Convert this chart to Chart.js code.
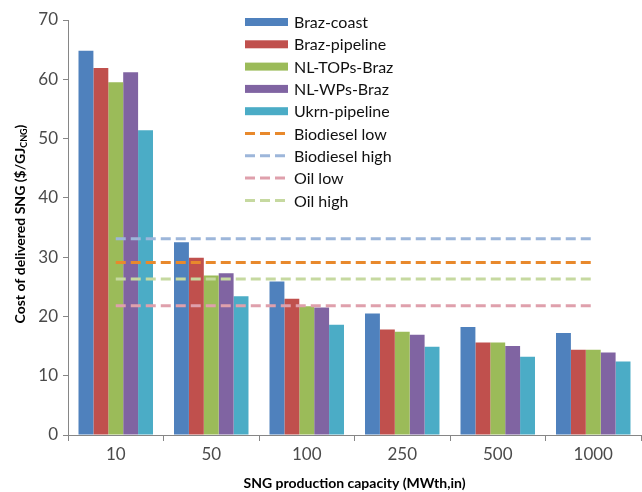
<!DOCTYPE html>
<html>
<head>
<meta charset="utf-8">
<script src="https://cdn.jsdelivr.net/npm/chart.js@4/dist/chart.umd.min.js"></script>
<style>
  html, body { margin: 0; padding: 0; background: #fff; }
  #wrap { width: 642px; height: 492px; }
</style>
</head>
<body>
<div id="wrap"><canvas id="sngChart"></canvas></div>
<script>
Chart.defaults.font.family = "Lato, 'Open Sans', sans-serif";
Chart.defaults.color = "#4a4a4a";

// capacities (MWth,in)
const capacity = ["10", "50", "100", "250", "500", "1000"]

// cost of delivered SNG per route ($/GJ)
const brazCoast = [64.8, 32.5, 25.9, 20.5, 18.2, 17.2]
const brazPipeline = [61.9, 29.9, 23.0, 17.8, 15.6, 14.4]
const nlTopsBraz = [59.5, 26.9, 21.7, 17.4, 15.6, 14.4]
const nlWpsBraz = [61.2, 27.3, 21.5, 16.9, 15.0, 13.9]
const ukrnPipeline = [51.4, 23.4, 18.6, 14.9, 13.2, 12.4]

// reference price levels
const biodieselLow = 29.1
const biodieselHigh = 33.1
const oilLow = 21.8
const oilHigh = 26.3

const yTicks = [0, 10, 20, 30, 40, 50, 60, 70]

const flat = v => capacity.map(() => v)

const bar = (label, data, color) => ({
    type: 'bar',
    label: label,
    data: data,
    backgroundColor: color,
    barPercentage: 1.0,
    categoryPercentage: 0.78,
    order: 2,
})

const refLine = (label, value, color) => ({
    type: 'line',
    label: label,
    data: flat(value),
    borderColor: color,
    borderWidth: 3,
    borderDash: [10, 5],
    pointRadius: 0,
    fill: false,
    order: 1,
})

// legend drawn inside the plot, like the original
const legendInside = {
    id: 'legendInside',
    afterDraw(chart) {
        const ctx = chart.ctx;
        ctx.save();
        ctx.font = "16px Lato, 'Open Sans', sans-serif";
        ctx.textBaseline = 'middle';
        chart.data.datasets.forEach((ds, i) => {
            const y = 22 + i * 22.3;
            if (ds.type === 'bar') {
                ctx.fillStyle = ds.backgroundColor;
                ctx.fillRect(245, y - 4, 43, 8);
            } else {
                ctx.strokeStyle = ds.borderColor;
                ctx.lineWidth = 3;
                ctx.setLineDash([10, 5]);
                ctx.beginPath();
                ctx.moveTo(245, y);
                ctx.lineTo(288, y);
                ctx.stroke();
                ctx.setLineDash([]);
            }
            ctx.fillStyle = '#111';
            ctx.fillText(ds.label, 294, y + 1);
        });
        ctx.restore();
    }
}

// y title with subscript CNG
const yTitle = {
    id: 'yTitle',
    afterDraw(chart) {
        const ctx = chart.ctx;
        ctx.save();
        ctx.translate(20, 224);
        ctx.rotate(-Math.PI / 2);
        ctx.fillStyle = '#000';
        ctx.textBaseline = 'middle';
        const main = "Cost of delivered SNG ($/GJ";
        const sub = "CNG";
        const tail = ")";
        const big = "bold 14px Lato, 'Open Sans', sans-serif";
        const small = "bold 9px Lato, 'Open Sans', sans-serif";
        ctx.font = big;
        const w1 = ctx.measureText(main).width;
        const w3 = ctx.measureText(tail).width;
        ctx.font = small;
        const w2 = ctx.measureText(sub).width;
        let x = -(w1 + w2 + w3) / 2;
        ctx.textAlign = 'left';
        ctx.font = big;
        ctx.fillText(main, x, 0);
        x += w1;
        ctx.font = small;
        ctx.fillText(sub, x, 4);
        x += w2;
        ctx.font = big;
        ctx.fillText(tail, x, 0);
        ctx.restore();
    }
}

const ctx = document.getElementById('sngChart').getContext('2d');

const sngChart = new Chart(ctx, {
    data: {
        labels: capacity,
        datasets: [
            bar('Braz-coast', brazCoast, '#4F81BD'),
            bar('Braz-pipeline', brazPipeline, '#C0504D'),
            bar('NL-TOPs-Braz', nlTopsBraz, '#9BBB59'),
            bar('NL-WPs-Braz', nlWpsBraz, '#8064A2'),
            bar('Ukrn-pipeline', ukrnPipeline, '#4BACC6'),
            refLine('Biodiesel low', biodieselLow, '#E8892C'),
            refLine('Biodiesel high', biodieselHigh, '#9DB6DA'),
            refLine('Oil low', oilLow, '#DFA0AC'),
            refLine('Oil high', oilHigh, '#C6D9A0'),
        ]
    },
    options: {
        responsive: true,
        maintainAspectRatio: false,
        animation: false,
        layout: {
            padding: { top: 20, right: 1, left: 0, bottom: 0 }
        },
        plugins: {
            legend: { display: false },
            tooltip: { enabled: false },
        },
        scales: {
            x: {
                offset: true,
                grid: {
                    offset: true,
                    drawOnChartArea: false,
                    color: '#868686',
                    tickLength: 6,
                },
                border: { color: '#868686' },
                ticks: {
                    font: { size: 17 },
                    padding: 3,
                },
                title: {
                    display: true,
                    text: 'SNG production capacity (MWth,in)',
                    font: { size: 14, weight: 'bold' },
                    color: '#000',
                    padding: { top: 4, bottom: 0 },
                },
                afterFit: s => { s.height = 57 },
            },
            y: {
                min: 0,
                max: 70,
                afterBuildTicks: s => { s.ticks = yTicks.map(v => ({ value: v })) },
                grid: {
                    drawOnChartArea: false,
                    color: '#868686',
                    tickLength: 5,
                },
                border: { color: '#868686' },
                ticks: {
                    font: { size: 17 },
                    padding: 5,
                },
                afterFit: s => { s.width = 68 },
            },
        },
    },
    plugins: [legendInside, yTitle],
})
</script>
</body>
</html>
